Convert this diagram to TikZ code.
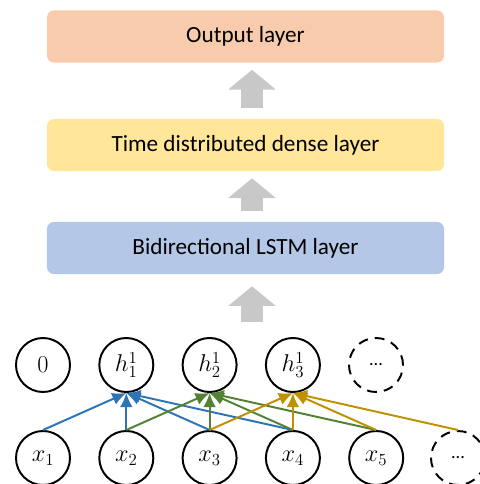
\documentclass[tikz,border=0pt]{standalone}
\usepackage{fontspec}
\setmainfont{Carlito}
\usetikzlibrary{arrows.meta,positioning}

\definecolor{outcol}{HTML}{F8CBAD}
\definecolor{densecol}{HTML}{FFE699}
\definecolor{lstmcol}{HTML}{B4C7E7}
\definecolor{bluecol}{HTML}{2E75B6}
\definecolor{greencol}{HTML}{548235}
\definecolor{goldcol}{HTML}{BF9000}
\definecolor{graycol}{HTML}{C8C8C8}

\begin{document}
\begin{tikzpicture}[
  x=0.025cm, y=-0.025cm,
  every node/.style={font=\fontsize{16.5}{19}\selectfont},
  layer/.style={rounded corners=5pt, minimum width=9.925cm, minimum height=1.3cm, inner sep=0pt},
  unit/.style={draw, circle, line width=1.4pt, minimum size=1.35cm, inner sep=0pt, font=\fontsize{18}{20}\selectfont},
  dots/.style={unit, dash pattern=on 7pt off 5pt, font=\fontsize{13}{15}\selectfont},
  up/.style={graycol, line width=15.6pt, -{Triangle[length=14pt,width=33pt]}, shorten <=7.8pt, shorten >=5pt},
  conn/.style={line width=1.4pt, -{Latex[length=10pt,width=9pt]}}
  ]
  \useasboundingbox (0,0) rectangle (479,484);

  % layers
  \node[layer, fill=outcol]   (out)   at (245.5,36.5) {Output layer};
  \node[layer, fill=densecol] (dense) at (245.5,145)  {Time distributed dense layer};
  \node[layer, fill=lstmcol]  (lstm)  at (245.5,248)  {Bidirectional LSTM layer};

  \coordinate (ax) at (252,0);
  \coordinate (in) at (252,322);
  \draw[up] (ax |- dense.north) -- (ax |- out.south);
  \draw[up] (ax |- lstm.north) -- (ax |- dense.south);
  \draw[up, shorten <=0pt, shorten >=8.5pt] (in) -- (ax |- lstm.south);

  % hidden states
  \node[unit] (h0) at (43,365) {$0$};
  \foreach \i in {1,2,3}
    \node[unit] (h\i) at ({43+83.3*\i},365) {$h_{\i}^{1}$};
  \node[dots] (h4) at (376,365) {...};

  % inputs
  \foreach \i in {1,...,5}
    \node[unit] (x\i) at ({43+83.3*(\i-1)},458) {$x_{\i}$};
  \node[dots] (x6) at (458,458) {...};

  % connections
  \foreach \i in {1,...,4}
    \draw[conn, bluecol] (x\i.north) -- (h1.south);
  \foreach \i in {2,...,5}
    \draw[conn, greencol] (x\i.north) -- (h2.south);
  \foreach \i in {3,...,6}
    \draw[conn, goldcol] (x\i.north) -- (h3.south);

\end{tikzpicture}
\end{document}
